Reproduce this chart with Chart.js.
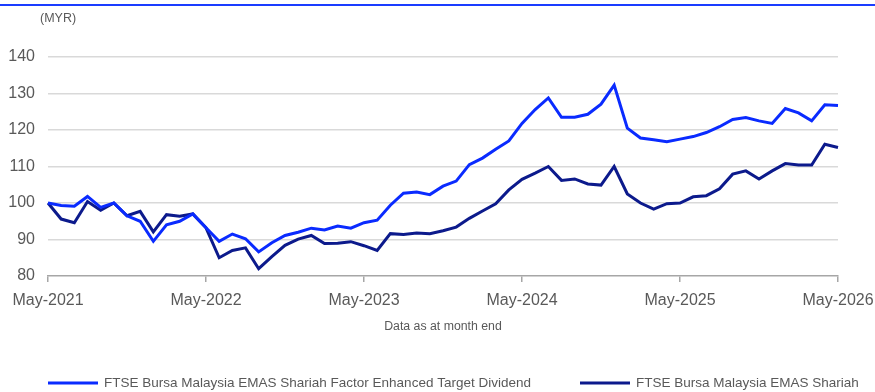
<!DOCTYPE html>
<html>
<head>
<meta charset="utf-8">
<script src="https://cdn.jsdelivr.net/npm/chart.js@4/dist/chart.umd.min.js"></script>
<style>
  html, body { margin: 0; padding: 0; background: #ffffff; }
  #wrap { position: relative; width: 875px; height: 392px; }
</style>
</head>
<body>
<div id="wrap"><canvas id="chart" width="875" height="392"></canvas></div>
<script>
// Monthly index levels, rebased to 100 at May-2021
const months = ['Jan','Feb','Mar','Apr','May','Jun','Jul','Aug','Sep','Oct','Nov','Dec'];
const categories = [];
for (let i = 0; i <= 60; i++) {
  const m = (4 + i) % 12;
  const y = 2021 + Math.floor((4 + i) / 12);
  categories.push(months[m] + '-' + y);
}

const targetDividend = [
  100, 99.3, 99.1, 101.8, 98.8, 100, 96.5, 95.0, 89.5, 94.0,
  95.0, 97.0, 93.2, 89.5, 91.5, 90.2, 86.6, 89.1, 91.1, 92.0,
  93.1, 92.6, 93.7, 93.1, 94.6, 95.3, 99.4, 102.7, 103.0, 102.3,
  104.6, 106.0, 110.5, 112.3, 114.7, 117.0, 121.8, 125.6, 128.8, 123.5,
  123.5, 124.3, 127.1, 132.3, 120.5, 117.8, 117.3, 116.8, 117.5, 118.2,
  119.3, 120.9, 122.9, 123.4, 122.5, 121.8, 125.9, 124.7, 122.5, 126.9, 126.7
];

const emasShariah = [
  100, 95.6, 94.6, 100.4, 98.0, 100, 96.5, 97.7, 92.1, 96.8,
  96.4, 97.0, 93.2, 85.0, 87.0, 87.7, 82.0, 85.3, 88.4, 90.1,
  91.1, 88.9, 89.0, 89.4, 88.3, 87.0, 91.6, 91.4, 91.8, 91.6,
  92.4, 93.4, 95.8, 97.8, 99.8, 103.6, 106.5, 108.2, 110.0, 106.2,
  106.6, 105.2, 104.9, 110.0, 102.5, 100.0, 98.3, 99.8, 100.0, 101.7,
  102.0, 103.9, 107.9, 108.8, 106.6, 108.8, 110.8, 110.4, 110.4, 116.1, 115.2
];

const seriesNames = [
  'FTSE Bursa Malaysia EMAS Shariah Factor Enhanced Target Dividend',
  'FTSE Bursa Malaysia EMAS Shariah'
];
const yTicks = [80, 90, 100, 110, 120, 130, 140];

const BRIGHT = '#0a2bff';
const NAVY = '#0c1a8c';
const FONT = "'Liberation Sans', Arial, sans-serif";

// Header rule, unit label, axis caption and legend
const decorations = {
  id: 'decorations',
  beforeDraw(chart) {
    const ctx = chart.ctx;
    ctx.save();
    ctx.fillStyle = '#ffffff';
    ctx.fillRect(0, 0, chart.width, chart.height);
    ctx.strokeStyle = '#1a3cff';
    ctx.lineWidth = 2;
    ctx.beginPath();
    ctx.moveTo(0, 5);
    ctx.lineTo(chart.width, 5);
    ctx.stroke();
    ctx.restore();
  },
  afterDraw(chart) {
    const ctx = chart.ctx;
    const area = chart.chartArea;
    ctx.save();
    ctx.fillStyle = '#595959';
    ctx.textBaseline = 'middle';
    ctx.font = '12.5px ' + FONT;
    ctx.textAlign = 'left';
    ctx.fillText('(MYR)', 40, 18.5);
    ctx.textAlign = 'center';
    ctx.font = '12.3px ' + FONT;
    ctx.fillText('Data as at month end', (area.left + area.right) / 2, 327);

    const items = [
      { x: 48, color: BRIGHT, text: seriesNames[0] },
      { x: 580, color: NAVY, text: seriesNames[1] }
    ];
    ctx.font = '13.5px ' + FONT;
    ctx.textAlign = 'left';
    items.forEach(it => {
      ctx.strokeStyle = it.color;
      ctx.lineWidth = 3;
      ctx.beginPath();
      ctx.moveTo(it.x, 383);
      ctx.lineTo(it.x + 50, 383);
      ctx.stroke();
      ctx.fillStyle = '#595959';
      ctx.fillText(it.text, it.x + 56, 383);
    });
    ctx.restore();
  }
};

new Chart(document.getElementById('chart'), {
  type: 'line',
  data: {
    labels: categories,
    datasets: [
      {
        label: seriesNames[0],
        data: targetDividend,
        borderColor: BRIGHT,
        backgroundColor: BRIGHT,
        borderWidth: 3,
        pointRadius: 0,
        tension: 0,
        fill: false
      },
      {
        label: seriesNames[1],
        data: emasShariah,
        borderColor: NAVY,
        backgroundColor: NAVY,
        borderWidth: 3,
        pointRadius: 0,
        tension: 0,
        fill: false
      }
    ]
  },
  options: {
    responsive: false,
    animation: false,
    devicePixelRatio: 1,
    layout: { padding: { top: 57, right: 37, bottom: 0, left: 0 } },
    plugins: {
      legend: { display: false },
      tooltip: { enabled: false }
    },
    scales: {
      x: {
        type: 'category',
        offset: false,
        afterFit(scale) {
          scale.height = 116;
          scale.paddingLeft = 0;
          scale.paddingRight = 0;
        },
        border: { display: true, color: '#a6a6a6', width: 1.5 },
        grid: {
          drawOnChartArea: false,
          drawTicks: true,
          tickLength: 6,
          lineWidth: 1.5,
          color: ctx => (ctx.index % 12 === 0 ? '#a6a6a6' : 'rgba(0,0,0,0)')
        },
        ticks: {
          autoSkip: false,
          maxRotation: 0,
          padding: 9,
          color: '#595959',
          font: { family: FONT, size: 16 },
          callback: function (value, index) {
            return index % 12 === 0 ? categories[index] : '';
          }
        }
      },
      y: {
        min: 80,
        max: 140,
        afterFit(scale) {
          scale.width = 48;
          scale.paddingTop = 0;
          scale.paddingBottom = 0;
        },
        afterBuildTicks(scale) { scale.ticks = yTicks.map(v => ({ value: v })); },
        border: { display: false },
        grid: {
          drawTicks: false,
          lineWidth: 1.5,
          color: ctx => (ctx.tick && ctx.tick.value === 80 ? 'rgba(0,0,0,0)' : '#d9d9d9')
        },
        ticks: {
          padding: 13,
          color: '#595959',
          font: { family: FONT, size: 16 }
        }
      }
    }
  },
  plugins: [decorations]
});
</script>
</body>
</html>
